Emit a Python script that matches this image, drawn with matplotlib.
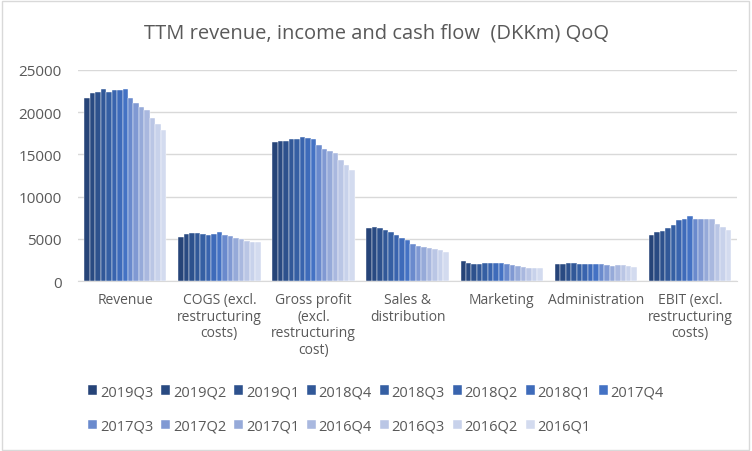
import numpy as np
import matplotlib
matplotlib.use("Agg")
import matplotlib.pyplot as plt
from matplotlib.patches import Rectangle

categories = ["Revenue", "COGS (excl.\nrestructuring\ncosts)", "Gross profit\n(excl.\nrestructuring\ncost)",
              "Sales &\ndistribution", "Marketing", "Administration", "EBIT (excl.\nrestructuring\ncosts)"]
series = ["2019Q3", "2019Q2", "2019Q1", "2018Q4", "2018Q3", "2018Q2", "2018Q1", "2017Q4",
          "2017Q3", "2017Q2", "2017Q1", "2016Q4", "2016Q3", "2016Q2", "2016Q1"]

revenue = [21660, 22250, 22370, 22700, 22370, 22600, 22600, 22750, 21660, 21100, 20600, 20270, 19300, 18600, 17900]
cogs = [5230, 5590, 5710, 5710, 5630, 5500, 5590, 5750, 5470, 5350, 5100, 4990, 4780, 4660, 4660]
gross_profit = [16490, 16600, 16600, 16800, 16800, 17080, 16960, 16840, 16130, 15660, 15420, 15180, 14350, 13760, 13170]
sales_dist = [6250, 6370, 6250, 6000, 5770, 5410, 5050, 4810, 4330, 4210, 4090, 3970, 3850, 3730, 3490]
marketing = [2400, 2160, 2040, 2040, 2160, 2160, 2160, 2160, 2040, 1920, 1800, 1680, 1560, 1560, 1560]
administration = [2040, 2040, 2160, 2160, 2040, 2040, 2040, 2040, 2040, 1920, 1800, 1920, 1920, 1840, 1680]
ebit = [5450, 5800, 5900, 6250, 6600, 7200, 7320, 7670, 7320, 7320, 7320, 7320, 6720, 6370, 6020]

data = np.array([revenue, cogs, gross_profit, sales_dist, marketing, administration, ebit])  # cat x series

colors = ["#264478", "#294A82", "#2D518D", "#315898", "#355FA3", "#3964AE", "#3E6BBA", "#4472C4",
          "#6A8ACD", "#8099D3", "#96AAD9", "#A9B8DF", "#BAC6E5", "#C8D2EB", "#D3DBEF"]

plt.rcParams['font.family'] = ['Open Sans', 'DejaVu Sans']
fig = plt.figure(figsize=(7.52, 4.52), dpi=100)
ax = fig.add_axes([0.104, 0.376, 0.876, 0.467])

n_cat = len(categories)
n_ser = len(series)
group_w = 0.875
bw = group_w / n_ser
x = np.arange(n_cat)
for i, s in enumerate(series):
    ax.bar(x - group_w / 2 + bw * (i + 0.5), data[:, i], width=bw, color=colors[i],
           edgecolor='white', linewidth=0.3, label=s, zorder=3)

ax.set_xlim(-0.5, n_cat - 0.5)
ax.set_ylim(0, 25000)
ax.set_yticks(np.arange(0, 25001, 5000))
ax.yaxis.grid(True, color='#d9d9d9', linewidth=1, zorder=0)
ax.set_axisbelow(True)
for sp in ['top', 'right', 'left']:
    ax.spines[sp].set_visible(False)
ax.spines['bottom'].set_color('#d9d9d9')
ax.tick_params(axis='both', length=0, colors='#595959', labelsize=10.5)
ax.tick_params(axis='y', labelsize=11, pad=12)
ax.set_xticks(x)
ax.set_xticklabels(categories, fontsize=10, color='#595959', linespacing=1.15, va='top')
ax.tick_params(axis='x', pad=8)

fig.text(0.5, 0.925, "TTM revenue, income and cash flow  (DKKm) QoQ", ha='center', va='center',
         fontsize=14.5, color='#595959')

handles, labels = ax.get_legend_handles_labels()
ncol = 8
order = []
for j in range(ncol):
    order.append(j)
    if j + ncol < len(handles):
        order.append(j + ncol)
leg = fig.legend([handles[k] for k in order], [labels[k] for k in order], loc='center',
                 bbox_to_anchor=(0.5, 0.093), ncol=ncol, frameon=False,
                 fontsize=10.5, handlelength=0.6, handleheight=0.6, handletextpad=0.2,
                 columnspacing=0.55, labelspacing=1.35, labelcolor='#595959')

fig.patches.append(Rectangle((0.002, 0.003), 0.994, 0.993, transform=fig.transFigure,
                             fill=False, edgecolor='#d9d9d9', linewidth=1))

fig.savefig("out.png", dpi=100, facecolor='white')
